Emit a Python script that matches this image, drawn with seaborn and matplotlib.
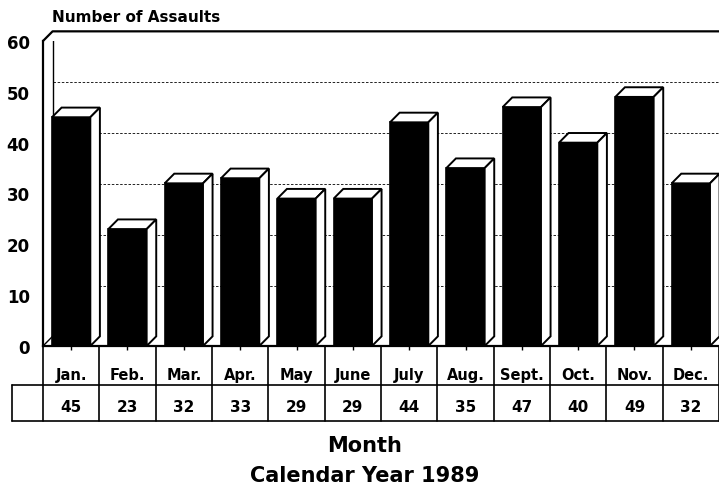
import numpy as np
import pandas as pd
import seaborn as sns
from matplotlib import pyplot as plt
from matplotlib.patches import Polygon
from matplotlib.transforms import blended_transform_factory

months = ['Jan.', 'Feb.', 'Mar.', 'Apr.', 'May', 'June', 'July', 'Aug.', 'Sept.', 'Oct.', 'Nov.', 'Dec.']
assaults = [45, 23, 32, 33, 29, 29, 44, 35, 47, 40, 49, 32]
y_ticks = [0, 10, 20, 30, 40, 50, 60]

df = pd.DataFrame({'month': months, 'assaults': assaults})

sns.set_style('white')
plt.rcParams['font.family'] = ['DejaVu Sans']
plt.rcParams['font.weight'] = 'bold'
plt.rcParams['text.color'] = 'black'
plt.rcParams['xtick.color'] = 'black'
plt.rcParams['ytick.color'] = 'black'

fig = plt.figure(figsize=(7.19, 4.89), dpi=100)
ax = fig.add_axes([43 / 719, 1 - 347 / 489, 676 / 719, 305 / 489])

sns.barplot(data=df, x='month', y='assaults', color='black', saturation=1,
            width=0.68, edgecolor='black', linewidth=1.2, zorder=3, ax=ax)

ax.set_xlim(-0.5, 11.5)
ax.set_ylim(0, 60)
ax.set_xlabel('')
ax.set_ylabel('')

# fake 3d depth
dx, dy = 0.17, 1.9
for p in ax.patches:
    x0, w, h = p.get_x(), p.get_width(), p.get_height()
    top = [(x0, h), (x0 + dx, h + dy), (x0 + w + dx, h + dy), (x0 + w, h)]
    side = [(x0 + w, 0), (x0 + w + dx, dy), (x0 + w + dx, h + dy), (x0 + w, h)]
    for pts in (top, side):
        ax.add_patch(Polygon(pts, closed=True, facecolor='white', edgecolor='black',
                             linewidth=1.4, zorder=4, clip_on=False))

# back wall + gridlines
ax.hlines([v + dy for v in y_ticks[1:-1]], -0.5 + dx, 11.5, colors='black',
          linestyles=(0, (3, 2)), linewidth=0.6, zorder=1)
ax.plot([-0.5, -0.5 + dx, 11.6], [60, 60 + dy, 60 + dy], color='black', lw=1.6, clip_on=False, zorder=2)
ax.plot([-0.5 + dx, -0.5 + dx], [dy, 60 + dy], color='black', lw=1.0, zorder=2)
ax.plot([-0.5, -0.5 + dx], [0, dy], color='black', lw=1.0, zorder=2)

sns.despine(ax=ax, top=True, right=True)
for s in ['left', 'bottom']:
    ax.spines[s].set_color('black')
    ax.spines[s].set_linewidth(1.6)

ax.set_yticks(y_ticks)
ax.set_yticklabels([str(v) for v in y_ticks], fontsize=12, fontweight='bold')
ax.tick_params(axis='y', direction='out', length=6, width=1.2, color='black', pad=3.5)
ax.set_xticks(range(len(months)))
ax.set_xticklabels([])
ax.tick_params(axis='x', direction='out', length=3, width=1.0, color='black', bottom=True)

# data table below
tr = blended_transform_factory(ax.transData, ax.transAxes)
r1, r2 = -0.128, -0.246
left2 = -1.05
for i, (m, v) in enumerate(zip(months, assaults)):
    ax.text(i, -0.094, m, transform=tr, ha='center', va='center', fontsize=10.5, fontweight='bold')
    ax.text(i, -0.197, str(v), transform=tr, ha='center', va='center', fontsize=11, fontweight='bold')
line_kw = dict(transform=tr, color='black', lw=1.2, clip_on=False)
for xb in np.arange(-0.5, 12.0, 1.0):
    ax.plot([xb, xb], [0, r2], **line_kw)
ax.plot([left2, 11.6], [r1, r1], **line_kw)
ax.plot([left2, 11.6], [r2, r2], **line_kw)
ax.plot([left2, left2], [r1, r2], **line_kw)

fig.text(52 / 719, 1 - 18 / 489, 'Number of Assaults', ha='left', va='center',
         fontsize=11, fontweight='bold')
fig.text(365 / 719, 1 - 446 / 489, 'Month', ha='center', va='center', fontsize=15, fontweight='bold')
fig.text(365 / 719, 1 - 476 / 489, 'Calendar Year 1989', ha='center', va='center',
         fontsize=15, fontweight='bold')

fig.savefig('out.png', dpi=100)
plt.close(fig)
